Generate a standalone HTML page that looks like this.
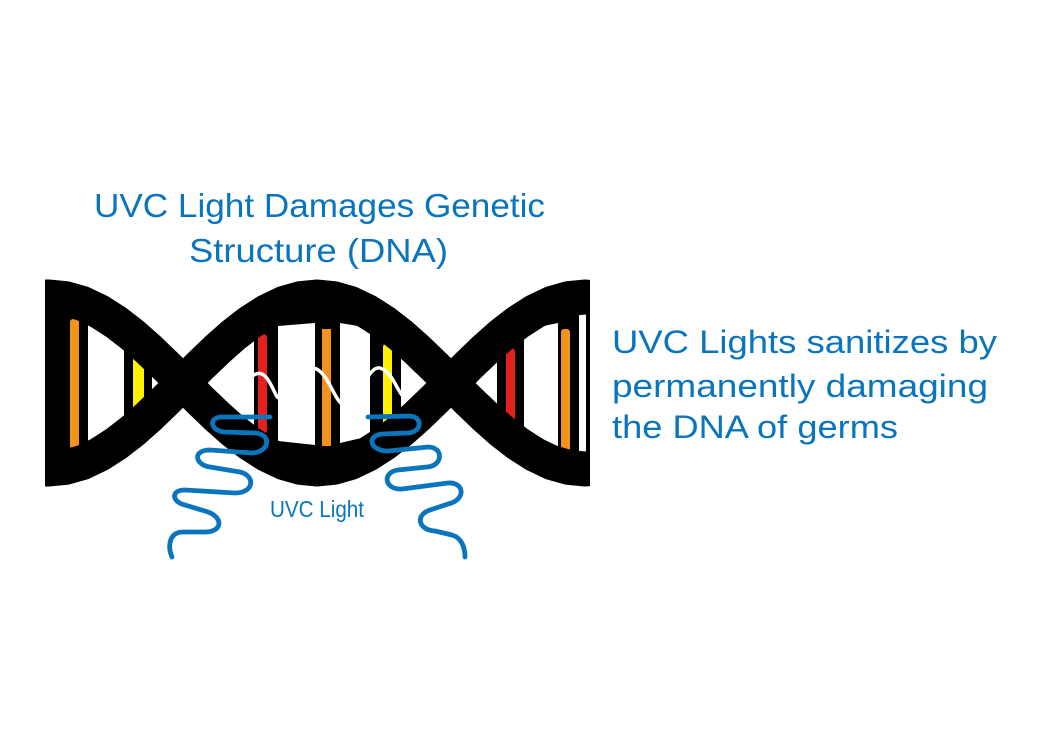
<!DOCTYPE html>
<html><head><meta charset="utf-8"><style>
html,body{margin:0;padding:0;background:#fff;}
svg{display:block;}
text{font-family:"Liberation Sans",sans-serif;fill:#0a75bd;}
</style></head><body>
<svg width="1050" height="750" viewBox="0 0 1050 750" xmlns="http://www.w3.org/2000/svg">
<defs>
<clipPath id="ends"><rect x="45" y="0" width="545" height="750"/></clipPath>
<clipPath id="lobes"><polygon points="49,297 82.5,303.5 116,322.2 149.5,350.1 183,383 216.5,415.9 250,443.8 283.5,462.5 317,469 350.5,462.5 384,443.8 417.5,415.9 451,383 484.5,350.1 518,322.2 551.5,303.5 585,297 618.5,303.5 618.5,462.5 585,469 551.5,462.5 518,443.8 484.5,415.9 451,383 417.5,350.1 384,322.2 350.5,303.5 317,297 283.5,303.5 250,322.2 216.5,350.1 183,383 149.5,415.9 116,443.8 82.5,462.5 49,469 10,462 10,303"/></clipPath>
</defs>

<text x="94" y="217" font-size="33" textLength="451" lengthAdjust="spacingAndGlyphs">UVC Light Damages Genetic</text>
<text x="189" y="262" font-size="33" textLength="259" lengthAdjust="spacingAndGlyphs">Structure (DNA)</text>

<text x="612" y="353" font-size="32" textLength="385" lengthAdjust="spacingAndGlyphs">UVC Lights sanitizes by</text>
<text x="612" y="397" font-size="32" textLength="376" lengthAdjust="spacingAndGlyphs">permanently damaging</text>
<text x="612" y="438" font-size="32" textLength="286" lengthAdjust="spacingAndGlyphs">the DNA of germs</text>

<g clip-path="url(#ends)">
  <g clip-path="url(#lobes)">
    <rect x="0" y="250" width="700" height="260" fill="#000"/>
    <g fill="#fff">
      <polygon points="88,318 124,336 124,428 88,446"/>
      <rect x="152" y="280" width="11" height="200"/>
      <rect x="204" y="280" width="50" height="200"/>
      <polygon points="278,326 315,323 315,445 278,441"/>
      <polygon points="340,323 370,328 370,436 340,443"/>
      <rect x="401" y="280" width="32" height="200"/>
      <rect x="474" y="280" width="23" height="200"/>
      <polygon points="524,330 558,323 558,452 524,446"/>
      <rect x="579" y="280" width="7" height="200"/>
    </g>
    <rect x="70" y="319" width="9" height="130" rx="3" fill="#f2921f"/>
    <rect x="133" y="349" width="11" height="70" rx="4" fill="#fff200"/>
    <rect x="258" y="334" width="9" height="100" rx="4" fill="#e3201b"/>
    <rect x="322" y="329" width="9" height="117" fill="#f2921f"/>
    <rect x="383" y="343" width="9" height="86" rx="4" fill="#fff200"/>
    <rect x="506" y="348" width="9" height="83" rx="4" fill="#e3201b"/>
    <rect x="561" y="329" width="9" height="124" rx="3" fill="#f2921f"/>
  </g>
  <g fill="none" stroke="#000" stroke-width="35" stroke-linejoin="round">
    <polyline points="20,298.7 32.25,297 49,297 65.75,298.7 82.5,303.5 99.25,311.5 116,322.2 132.75,335.2 149.5,350.1 166.25,366.2 183,383 199.75,399.8 216.5,415.9 233.25,430.8 250,443.8 266.75,454.5 283.5,462.5 300.25,467.3 317,469 333.75,467.3 350.5,462.5 367.25,454.5 384,443.8 400.75,430.8 417.5,415.9 434.25,399.8 451,383 467.75,366.2 484.5,350.1 501.25,335.2 518,322.2 534.75,311.5 551.5,303.5 568.25,298.7 585,297 601.75,298.7 618.5,303.5"/>
    <polyline points="20,467.3 32.25,469 49,469 65.75,467.3 82.5,462.5 99.25,454.5 116,443.8 132.75,430.8 149.5,415.9 166.25,399.8 183,383 199.75,366.2 216.5,350.1 233.25,335.2 250,322.2 266.75,311.5 283.5,303.5 300.25,298.7 317,297 333.75,298.7 350.5,303.5 367.25,311.5 384,322.2 400.75,335.2 417.5,350.1 434.25,366.2 451,383 467.75,399.8 484.5,415.9 501.25,430.8 518,443.8 534.75,454.5 551.5,462.5 568.25,467.3 585,469 601.75,467.3 618.5,462.5"/>
  </g>
</g>

<path d="M248,380 C262,365 268,378 276,395 C284,410 292,366 313,368 C330,370 335,410 348,405 C360,400 368,365 380,368 C392,372 396,388 402,395" fill="none" stroke="#fff" stroke-width="3.5" stroke-linecap="round"/>

<g fill="none" stroke="#0a75bd" stroke-width="4.8" stroke-linecap="round" stroke-linejoin="round">
  <path d="M270,417 L222,417 C208,417 210,431 225,432 L255,433 C272,434 270,452 252,453 L210,450 C192,450 195,465 210,467 L240,472 C256,476 254,493 235,493 L185,490 C170,490 172,502 185,505 L208,512 C224,518 222,532 205,532 L183,532 C170,532 167,545 172,557"/>
  <path d="M368,417 L410,416 C423,417 422,432 408,433 L382,434 C366,436 370,451 388,451 L428,447 C444,447 443,466 427,467 L398,470 C382,472 384,490 402,489 L448,483 C465,482 466,500 448,504 L430,510 C415,515 418,530 435,531 L452,535 C462,538 465,548 465,557"/>
</g>
<text x="270" y="517" font-size="23" textLength="94" lengthAdjust="spacingAndGlyphs">UVC Light</text>
</svg>
</body></html>
